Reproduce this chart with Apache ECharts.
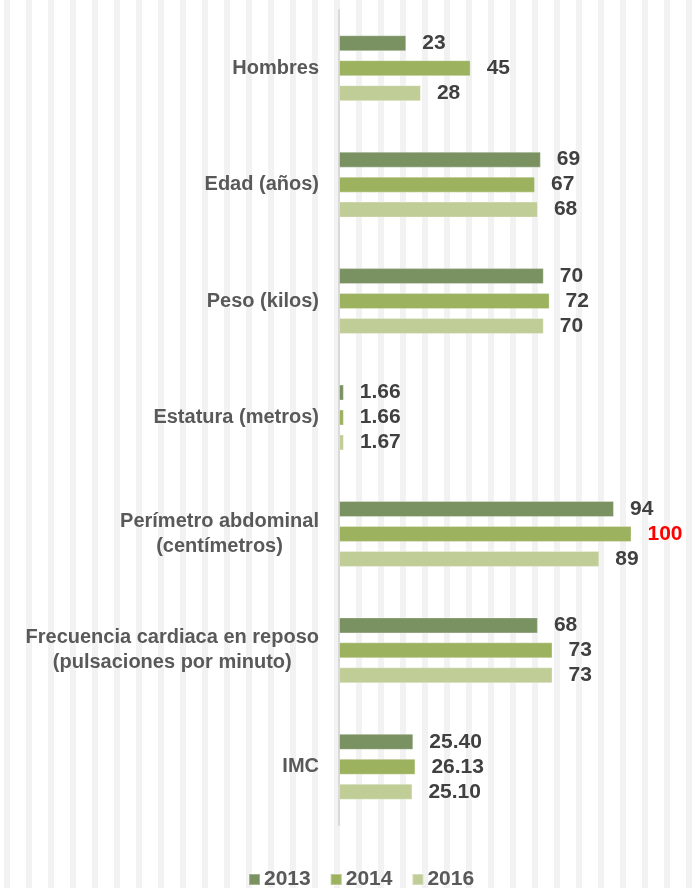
<html>
<meta charset="UTF-8">
<head>
    <script src="https://cdn.jsdelivr.net/npm/echarts@6/dist/echarts.min.js"></script>
    <style>
        body { margin: 0; }
        #chart {
            width: 699px; height: 888px;
            background: linear-gradient(90deg, #fff 4px, #f2f2f2 4px, #f2f2f2 10px, #fff 10px) 0 0 / 22px 100%;
        }
    </style>
</head>
<body>
<div id="chart"></div>
<script>
    // categories top to bottom
    var categories = ['Hombres', 'Edad (años)', 'Peso (kilos)', 'Estatura (metros)',
        'Perímetro abdominal\n(centímetros)', 'Frecuencia cardiaca en reposo\n(pulsaciones por minuto)', 'IMC'];
    var years = ['2013', '2014', '2016'];
    var v2013 = [23, 69, 70, 1.66, 94, 68, 25.40];
    var v2014 = [45, 67, 72, 1.66, 100, 73, 26.13];
    var v2016 = [28, 68, 70, 1.67, 89, 73, 25.10];
    var colors = ['#7a9262', '#9db25f', '#c0cd97'];

    var chart = echarts.init(document.getElementById('chart'));

    function fmt(p) {
        var v = p.value;
        return Number.isInteger(v) ? String(v) : v.toFixed(2);
    }

    function makeSeries(name, vals, color) {
        return {
            name: name,
            type: 'bar',
            barWidth: 16,
            barGap: '56%',
            data: vals.map(function (v) {
                var item = { value: v };
                // the 100 in 2014 is highlighted in red
                if (name === '2014' && v === 100) item.label = { color: '#ff0000' };
                return item;
            }),
            itemStyle: { color: color, borderColor: 'rgba(255,255,255,0.3)', borderWidth: 1 },
            label: {
                show: true,
                position: 'right',
                distance: 16,
                formatter: fmt,
                fontFamily: 'Liberation Sans',
                fontWeight: 'bold',
                fontSize: 21,
                color: '#404040'
            }
        };
    }

    chart.setOption({
        backgroundColor: 'transparent',
        animation: false,
        textStyle: { fontFamily: 'Liberation Sans' },
        grid: { left: 339, right: 9, top: 10, bottom: 63, containLabel: false },
        xAxis: {
            type: 'value',
            min: 0,
            max: 120,
            axisLabel: { show: false },
            axisLine: { show: false },
            axisTick: { show: false },
            splitLine: { show: false }
        },
        yAxis: {
            type: 'category',
            inverse: true,
            data: categories,
            axisLine: { show: true, lineStyle: { color: '#d9d9d9', width: 2 } },
            axisTick: { show: false },
            axisLabel: {
                margin: 20,
                align: 'right',
                lineHeight: 25,
                formatter: function (v) {
                    return v.split('\n').map(function (s) { return '{c|' + s + '}'; }).join('\n');
                },
                rich: {
                    c: {
                        align: 'center',
                        fontFamily: 'Liberation Sans',
                        fontWeight: 'bold',
                        fontSize: 20,
                        lineHeight: 25,
                        color: '#595959'
                    }
                }
            }
        },
        legend: {
            top: 864,
            left: 243,
            itemWidth: 11,
            itemHeight: 11,
            itemGap: 19,
            icon: 'rect',
            data: years,
            textStyle: { fontFamily: 'Liberation Sans', fontWeight: 'bold', fontSize: 21, color: '#595959', padding: [0, 0, 0, -1] }
        },
        series: [
            makeSeries(years[0], v2013, colors[0]),
            makeSeries(years[1], v2014, colors[1]),
            makeSeries(years[2], v2016, colors[2])
        ]
    });
</script>
</body>
</html>
